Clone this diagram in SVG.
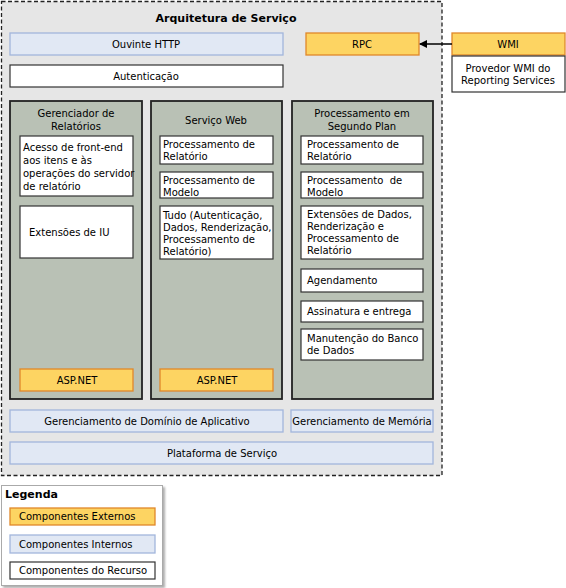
<svg xmlns="http://www.w3.org/2000/svg" width="566" height="588" viewBox="0 0 566 588">
<defs>
<marker id="arr" markerWidth="8" markerHeight="8" refX="7" refY="4" orient="auto" markerUnits="userSpaceOnUse">
<path d="M0,0 L8,4 L0,8 Z" fill="#000"/>
</marker>
<filter id="sh" x="-5%" y="-5%" width="115%" height="115%">
<feDropShadow dx="2" dy="2" stdDeviation="1" flood-color="#999" flood-opacity="0.8"/>
</filter>
</defs>
<style>
text{font-family:"DejaVu Sans",Verdana,sans-serif;font-size:10px;fill:#000}
.c{text-anchor:middle}
.b{font-weight:bold;font-size:11px}
.ext{fill:#fdd462;stroke:#e0882a;stroke-width:1.3}
.int{fill:#e1e8f4;stroke:#a2b6dc;stroke-width:1.3}
.res{fill:#fff;stroke:#333;stroke-width:1.2}
.col{fill:#b9c1b5;stroke:#222;stroke-width:1.8}
</style>
<rect x="0" y="0" width="566" height="588" fill="#fff"/>
<g id="arquitetura">
<rect x="1.5" y="1.5" width="440.5" height="474" fill="#e6e6e6" stroke="#222" stroke-width="1.3" stroke-dasharray="4,2.5"/>
<text class="c b" x="226" y="22">Arquitetura de Serviço</text>
</g>
<g id="ouvinte"><rect class="int" x="10" y="33" width="273" height="22"/><text class="c" x="146" y="48">Ouvinte HTTP</text></g>
<g id="autenticacao"><rect class="res" x="10" y="65" width="273" height="22"/><text class="c" x="146" y="80">Autenticação</text></g>
<g id="rpc"><rect class="ext" x="306" y="33" width="113" height="22"/><text class="c" x="362" y="48">RPC</text></g>
<g id="wmi"><rect class="ext" x="452" y="33" width="113" height="22"/><text class="c" x="508" y="48">WMI</text>
<rect class="res" x="452" y="56" width="113" height="36"/><text class="c" x="508" y="72">Provedor WMI do</text><text class="c" x="508" y="84">Reporting Services</text></g>

<g id="gerenciador">
<rect class="col" x="10" y="101" width="132" height="298"/>
<text class="c" x="76" y="117">Gerenciador de</text><text class="c" x="76" y="130">Relatórios</text>
<rect class="res" x="20" y="136" width="113" height="60"/>
<text x="23" y="151">Acesso de front-end</text><text x="23" y="164">aos itens e às</text><text x="23" y="177">operações do servidor</text><text x="23" y="190">de relatório</text>
<rect class="res" x="20" y="206" width="113" height="52"/>
<text x="29" y="236">Extensões de IU</text>
<rect class="ext" x="20" y="369" width="113" height="22"/><text class="c" x="77" y="384">ASP.NET</text>
</g>

<g id="servico-web">
<rect class="col" x="151" y="101" width="131" height="298"/>
<text class="c" x="216" y="124">Serviço Web</text>
<rect class="res" x="160" y="136" width="113" height="28"/>
<text x="163" y="148">Processamento de</text><text x="163" y="160">Relatório</text>
<rect class="res" x="160" y="172" width="113" height="26"/>
<text x="163" y="184">Processamento de</text><text x="163" y="196">Modelo</text>
<rect class="res" x="160" y="206" width="113" height="53"/>
<text x="163" y="219">Tudo (Autenticação,</text><text x="163" y="231">Dados, Renderização,</text><text x="163" y="243">Processamento de</text><text x="163" y="255">Relatório)</text>
<rect class="ext" x="160" y="369" width="113" height="22"/><text class="c" x="217" y="384">ASP.NET</text>
</g>

<g id="processamento">
<rect class="col" x="292" y="101" width="141" height="298"/>
<text class="c" x="362" y="117">Processamento em</text><text class="c" x="362" y="130">Segundo Plan</text>
<rect class="res" x="301" y="136" width="122" height="28"/>
<text x="307" y="148">Processamento de</text><text x="307" y="160">Relatório</text>
<rect class="res" x="301" y="172" width="122" height="26"/>
<text x="307" y="184" style="white-space:pre" xml:space="preserve">Processamento  de</text><text x="307" y="196">Modelo</text>
<rect class="res" x="301" y="206" width="122" height="53"/>
<text x="307" y="218">Extensões de Dados,</text><text x="307" y="230">Renderização e</text><text x="307" y="242">Processamento de</text><text x="307" y="254">Relatório</text>
<rect class="res" x="301" y="269" width="122" height="23"/><text x="307" y="284">Agendamento</text>
<rect class="res" x="301" y="301" width="122" height="21"/><text x="307" y="315">Assinatura e entrega</text>
<rect class="res" x="301" y="329" width="122" height="31"/>
<text x="307" y="342">Manutenção do Banco</text><text x="307" y="354">de Dados</text>
</g>

<g id="dominio"><rect class="int" x="10" y="410" width="273" height="22"/><text class="c" x="147" y="425">Gerenciamento de Domínio de Aplicativo</text></g>
<g id="memoria"><rect class="int" x="291" y="410" width="142" height="22"/><text class="c" x="362" y="425">Gerenciamento de Memória</text></g>
<g id="plataforma"><rect class="int" x="10" y="442" width="423" height="22"/><text class="c" x="222" y="457">Plataforma de Serviço</text></g>

<g id="connectors">
<line x1="452" y1="44" x2="420" y2="44" stroke="#000" stroke-width="1.5" marker-end="url(#arr)"/>
</g>

<g id="legenda">
<rect x="1.5" y="485.5" width="161" height="100" fill="#fff" stroke="#aaa" stroke-width="1" filter="url(#sh)"/>
<text class="b" x="5" y="498">Legenda</text>
<rect class="ext" x="10" y="508" width="145" height="17"/><text x="19" y="520">Componentes Externos</text>
<rect class="int" x="10" y="535" width="145" height="18"/><text x="19" y="548">Componentes Internos</text>
<rect class="res" x="10" y="562" width="145" height="17"/><text x="19" y="574">Componentes do Recurso</text>
</g>
</svg>
